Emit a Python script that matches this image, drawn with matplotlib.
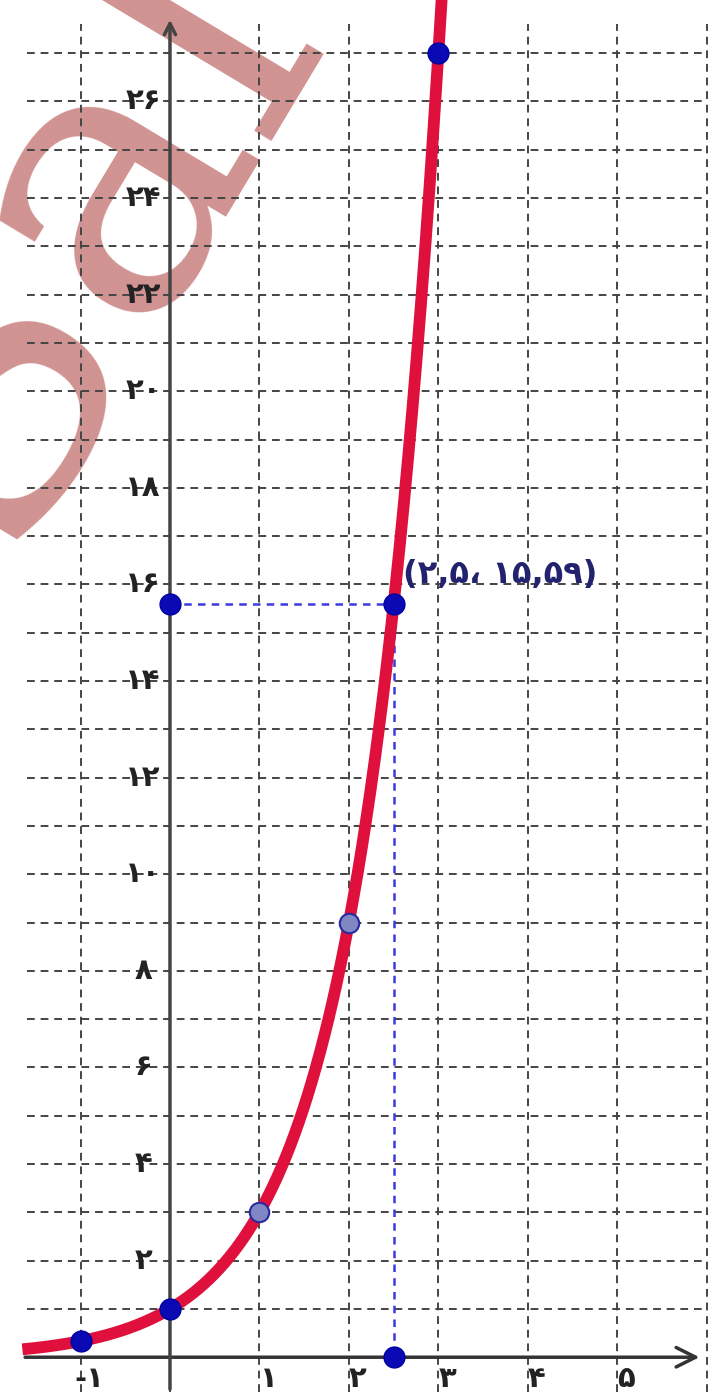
import numpy as np
import matplotlib.pyplot as plt

# y = base ** x
base = 3
x_min, x_max = -1.9, 6.07
y_min, y_max = -0.72, 28.1

ytick_vals = [2, 4, 6, 8, 10, 12, 14, 16, 18, 20, 22, 24, 26]
ytick_labels = ['۲', '۴', '۶', '۸', '۱۰', '۱۲', '۱۴', '۱۶', '۱۸', '۲۰', '۲۲', '۲۴', '۲۶']
xtick_vals = [-1, 1, 2, 3, 4, 5]
xtick_labels = ['-۱', '۱', '۲', '۳', '۴', '۵']

blue_x = [-1, 0, 2.5, 2.5, 0, 3]
blue_y = [1 / 3, 1, 15.59, 0, 15.59, 27]
gray_x = [1, 2]
gray_y = [3, 9]
point_label = '(۲,۵، ۱۵,۵۹)'

fig = plt.figure(figsize=(7.13, 13.92), dpi=100)
ax = fig.add_axes([0, 0, 1, 1])
ax.set_xlim(x_min, x_max)
ax.set_ylim(y_min, y_max)
ax.axis('off')

# watermark
ax.text(-1.2, 23.4, 'Sal', fontsize=280, family='DejaVu Serif', color='#c8807e',
        alpha=0.85, rotation=59, ha='center', va='center', zorder=0)

# grid
for gx in range(-1, 7):
    ax.plot([gx, gx], [-0.72, 27.6], color='#444444', lw=1.4,
            ls=(0, (4, 3)), zorder=1)
for gy in range(1, 28):
    ax.plot([-1.6, 5.95], [gy, gy], color='#444444', lw=1.4,
            ls=(0, (4, 3)), zorder=1)

# axes with arrows
ax.annotate('', xy=(5.95, 0), xytext=(-1.65, 0),
            arrowprops=dict(arrowstyle='->', lw=2.5, color='#333333',
                            mutation_scale=35), zorder=2)
ax.annotate('', xy=(0, 27.75), xytext=(0, -0.72),
            arrowprops=dict(arrowstyle='->', lw=2.5, color='#444444',
                            mutation_scale=20), zorder=2)

for v, t in zip(ytick_vals, ytick_labels):
    ax.text(-0.3, v, t, fontsize=21, fontweight='bold', ha='center',
            va='center', color='#222222', zorder=3)
for v, t in zip(xtick_vals, xtick_labels):
    ax.text(v + 0.1, -0.45, t, fontsize=21, fontweight='bold', ha='center',
            va='center', color='#222222', zorder=3)

# helper dashed lines
ax.plot([0, 2.5], [15.59, 15.59], color='#3a3ae0', lw=1.8, ls=(0, (3, 2.5)), zorder=3)
ax.plot([2.5, 2.5], [15.59, 0], color='#3a3ae0', lw=1.8, ls=(0, (3, 2.5)), zorder=3)

# curve
xs = np.linspace(-1.65, 3.04, 400)
ax.plot(xs, base ** xs, color='#e0103c', lw=8.5, solid_capstyle='butt', zorder=4)

ax.plot(gray_x, gray_y, 'o', ms=14, color='#8088c4', mec='#2a2aa0', mew=1.5,
        ls='none', zorder=5)
ax.plot(blue_x, blue_y, 'o', ms=15, color='#0a0ab4', mec='#0000a0',
        ls='none', zorder=5)

ax.text(2.6, 16.2, point_label, fontsize=23, fontweight='bold', color='#22226e',
        ha='left', va='center', zorder=6)

fig.savefig('out.png', dpi=100)
